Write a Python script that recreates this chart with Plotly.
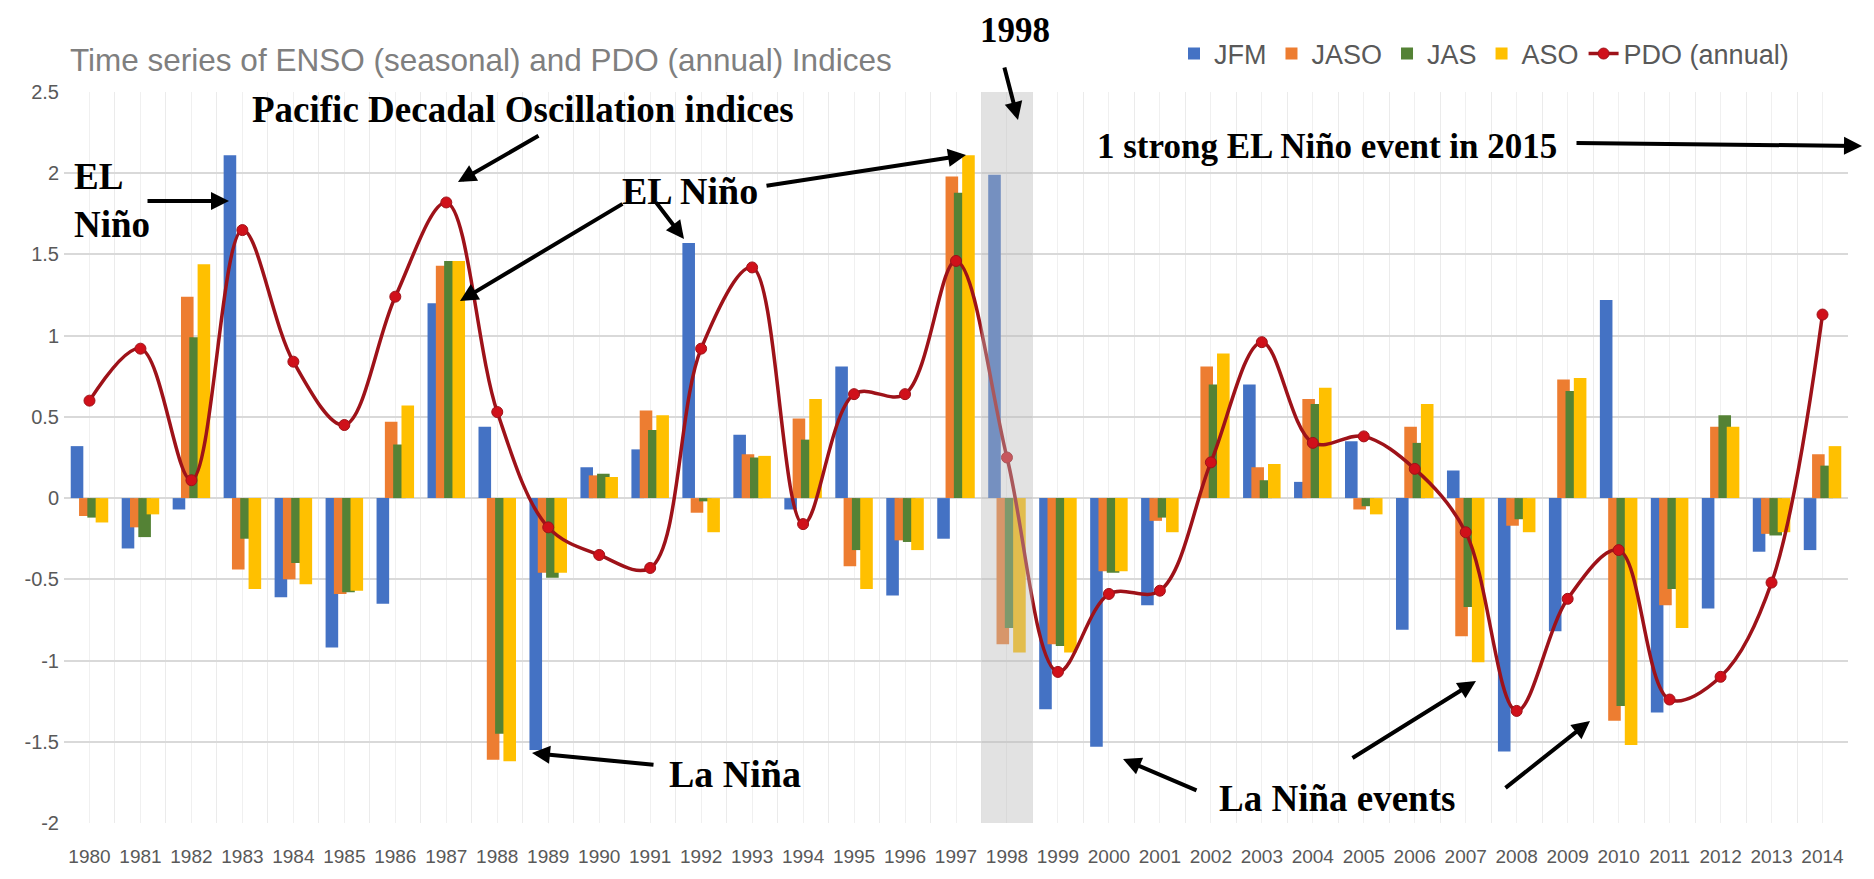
import plotly.graph_objects as go

years = [str(y) for y in range(1980, 2015)]
jfm = [0.32, -0.31, -0.07, 2.11, -0.61, -0.92, -0.65, 1.20, 0.44, -1.55,
       0.19, 0.30, 1.57, 0.39, -0.07, 0.81, -0.60, -0.25, 1.99, -1.30,
       -1.53, -0.66, 0.0, 0.70, 0.10, 0.35, -0.81, 0.17, -1.56, -0.82,
       1.22, -1.32, -0.68, -0.33, -0.32]
jaso = [-0.11, -0.18, 1.24, -0.44, -0.50, -0.59, 0.47, 1.43, -1.61, -0.46,
        0.14, 0.54, -0.09, 0.27, 0.49, -0.42, -0.26, 1.98, -0.90, -0.90,
        -0.45, -0.14, 0.81, 0.19, 0.61, -0.07, 0.44, -0.85, -0.17, 0.73,
        -1.37, -0.66, 0.44, -0.22, 0.27]
jas = [-0.12, -0.24, 0.99, -0.25, -0.40, -0.58, 0.33, 1.46, -1.45, -0.49,
       0.15, 0.42, -0.02, 0.25, 0.36, -0.32, -0.27, 1.88, -0.80, -0.91,
       -0.46, -0.12, 0.70, 0.11, 0.58, -0.05, 0.34, -0.67, -0.13, 0.66,
       -1.28, -0.56, 0.51, -0.23, 0.20]
aso = [-0.15, -0.10, 1.44, -0.56, -0.53, -0.57, 0.57, 1.46, -1.62, -0.46,
       0.13, 0.51, -0.21, 0.26, 0.61, -0.56, -0.32, 2.11, -0.95, -0.95,
       -0.45, -0.21, 0.89, 0.21, 0.68, -0.10, 0.58, -1.01, -0.21, 0.74,
       -1.52, -0.80, 0.44, -0.21, 0.32]
pdo = [0.60, 0.92, 0.11, 1.65, 0.84, 0.45, 1.24, 1.82, 0.53, -0.18,
       -0.35, -0.43, 0.92, 1.42, -0.16, 0.64, 0.64, 1.46, 0.25, -1.07,
       -0.59, -0.57, 0.22, 0.96, 0.34, 0.38, 0.18, -0.21, -1.31, -0.62,
       -0.32, -1.24, -1.10, -0.52, 1.13]
ytick_vals = [-2, -1.5, -1, -0.5, 0, 0.5, 1, 1.5, 2, 2.5]
ytick_text = ["-2", "-1.5", "-1", "-0.5", "0", "0.5", "1", "1.5", "2", "2.5"]

xs = list(range(len(years)))

W, H = 1874, 879
OFF = 8  # page body margin of the html page
# plot area in screen pixels
L, R, T, B = 64, 1848, 92, 823


def P(X, Y):
    return (X - L) / (R - L), (B - Y) / (B - T)


fig = go.Figure()
bar_w = 0.247
offsets = [-0.368, -0.205, -0.042, 0.121]
series = [("JFM", jfm, "#4472C4"), ("JASO", jaso, "#ED7D31"),
          ("JAS", jas, "#548235"), ("ASO", aso, "#FFC000")]
for (name, vals, col), off in zip(series, offsets):
    fig.add_trace(go.Bar(x=xs, y=vals, name=name, marker_color=col,
                         marker_line_width=0, width=bar_w, offset=off))

fig.add_trace(go.Scatter(x=xs, y=pdo, name="PDO (annual)", mode="lines+markers",
                         line=dict(color="#9E1219", width=3.5, shape="spline", smoothing=1),
                         marker=dict(color="#D0101A", size=11,
                                     line=dict(color="#9E1219", width=1))))

fig.update_layout(
    width=W, height=H, barmode="overlay",
    margin=dict(l=L - OFF, r=W - (R - OFF), t=T - OFF, b=H - (B - OFF), pad=0),
    plot_bgcolor="white", paper_bgcolor="white",
    font=dict(family="Liberation Sans, Arial, sans-serif", color="#595959"),
    legend=dict(orientation="h", x=P(1794, 0)[0], xanchor="right",
                y=P(0, 54)[1], yanchor="middle",
                font=dict(size=27, color="#595959"), itemwidth=30,
                bgcolor="rgba(0,0,0,0)"),
    xaxis=dict(range=[-0.5, 34.5], tickvals=xs, ticktext=years, showgrid=True,
               gridcolor="#f0f0f0", gridwidth=1, zeroline=False, ticks="",
               tickfont=dict(size=19, color="#595959"), showline=False,
               ticklabelstandoff=20,
               minor=dict(tickvals=[i - 0.5 for i in range(36)], showgrid=True,
                          gridcolor="#ebebeb", gridwidth=1, ticks="")),
    yaxis=dict(range=[-2, 2.5], tickvals=ytick_vals, ticktext=ytick_text,
               showgrid=True, gridcolor="#d9d9d9", gridwidth=2, zeroline=False,
               ticks="", tickfont=dict(size=20, color="#595959"), showline=False,
               ticklabelstandoff=4),
)

# shaded 1998 band
fig.add_shape(type="rect", xref="x", yref="y", x0=17.5, x1=18.5, y0=-2, y1=2.5,
              fillcolor="rgba(185,185,185,0.42)", line_width=0, layer="above")
# thin top border line
x0p, ytop = P(0, 6)
x1p, _ = P(W + 10, 6)
fig.add_shape(type="line", xref="paper", yref="paper", x0=x0p, x1=x1p, y0=ytop, y1=ytop,
              line=dict(color="#e3e3e3", width=3))

# title
tx, ty = P(68, 60)
fig.add_annotation(text="Time series of ENSO (seasonal) and PDO (annual) Indices",
                   xref="paper", yref="paper", x=tx, y=ty, xanchor="left",
                   yanchor="middle", showarrow=False,
                   font=dict(size=31.5, color="#7f7f7f", family="Liberation Sans, Arial, sans-serif"))

serif = "Liberation Serif, Times New Roman, serif"
labels = [
    ("1998", 1015, 9, "center", "top", 35),
    ("Pacific Decadal Oscillation indices", 523, 110, "center", "middle", 37),
    ("EL<br>Niño", 72, 200, "left", "middle", 37),
    ("EL Niño", 690, 191, "center", "middle", 38),
    ("1 strong EL Niño event in 2015", 1327, 146, "center", "middle", 35),
    ("La Niña", 735, 774, "center", "middle", 38),
    ("La Niña events", 1337, 798, "center", "middle", 37),
]
for text, X, Y, anc, vanc, fs in labels:
    px, py = P(X, Y)
    fig.add_annotation(text="<b>" + text + "</b>", xref="paper", yref="paper",
                       x=px, y=py, xanchor=anc, yanchor=vanc, align="left",
                       showarrow=False,
                       font=dict(size=fs, color="black", family=serif))

arrows = [
    ((1004, 66), (1018, 120)),
    ((540, 135), (458, 182)),
    ((146, 201), (229, 201)),
    ((765, 186), (966, 155)),
    ((624, 203), (460, 301)),
    ((655, 201), (684, 239)),
    ((1575, 143), (1862, 146)),
    ((655, 765), (532, 753)),
    ((1198, 791), (1123, 759)),
    ((1351, 759), (1476, 681)),
    ((1504, 789), (1590, 721)),
]
for (tx_, ty_), (hx, hy) in arrows:
    px, py = P(hx, hy)
    fig.add_annotation(text="", xref="paper", yref="paper", x=px, y=py,
                       ax=tx_ - hx, ay=ty_ - hy, showarrow=True,
                       arrowhead=2, arrowsize=0.9, arrowwidth=4, arrowcolor="black")

fig.write_html("out.html")
